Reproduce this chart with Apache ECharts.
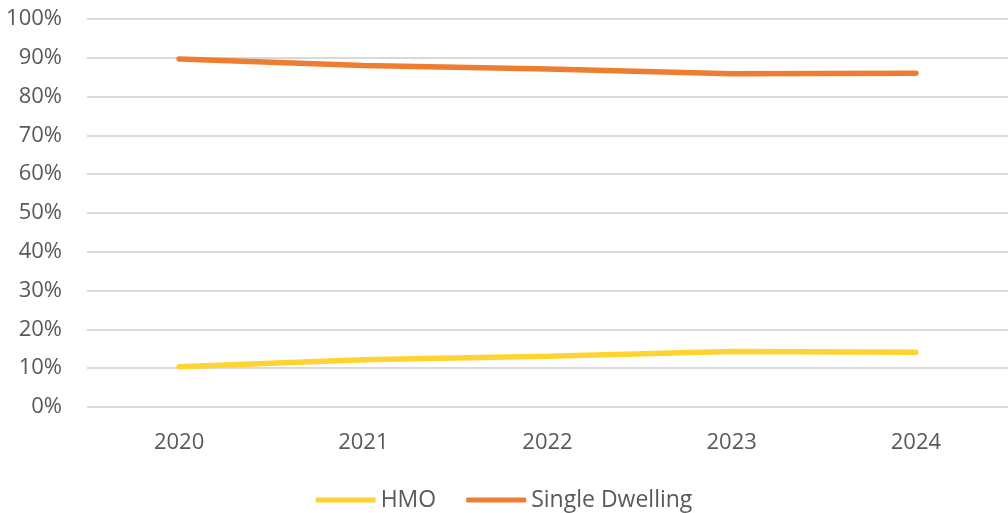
<!DOCTYPE html>
<html><head><meta charset="utf-8">
<script src="https://cdn.jsdelivr.net/npm/echarts@6/dist/echarts.min.js"></script>
<style>html,body{margin:0;padding:0;background:#fff}#c{width:1008px;height:513px}</style>
</head><body><div id="c"></div>
<script>
const categories = ['2020','2021','2022','2023','2024'];
const hmo = [10.4, 12.2, 13.1, 14.3, 14.1];
const singleDwelling = [89.7, 88.0, 87.1, 85.9, 86.0];
const yTicks = [0,10,20,30,40,50,60,70,80,90,100];

const chart = echarts.init(document.getElementById('c'));
const font = '"Open Sans", "Noto Sans", sans-serif';
chart.setOption({
  animation:false,
  grid:{left:87,right:0,top:19,bottom:106,containLabel:false},
  legend:{
    top:482, left:'center', itemWidth:60, itemHeight:5, itemGap:30,
    icon:'roundRect',
    textStyle:{fontFamily:font,fontSize:23,color:'#595959',padding:[0,0,0,0],lineHeight:26},
    data:['HMO','Single Dwelling']
  },
  xAxis:{type:'category',data:categories,boundaryGap:true,
    axisLine:{show:false},axisTick:{show:false},
    axisLabel:{fontFamily:font,fontSize:22,color:'#595959',margin:25}},
  yAxis:{type:'value',min:0,max:100,interval:10,
    axisLabel:{fontFamily:font,fontSize:22,color:'#595959',margin:25,formatter:v=>v+'%'},
    splitLine:{lineStyle:{color:'#d9d9d9',width:2}},
    axisLine:{show:false},axisTick:{show:false}},
  series:[
    {name:'HMO',type:'line',data:hmo,symbol:'none',
      lineStyle:{color:'#FFD430',width:5.5,cap:'round'},itemStyle:{color:'#FFD430'}},
    {name:'Single Dwelling',type:'line',data:singleDwelling,symbol:'none',
      lineStyle:{color:'#ED7D31',width:5.5,cap:'round'},itemStyle:{color:'#ED7D31'}}
  ]
});
</script></body></html>
